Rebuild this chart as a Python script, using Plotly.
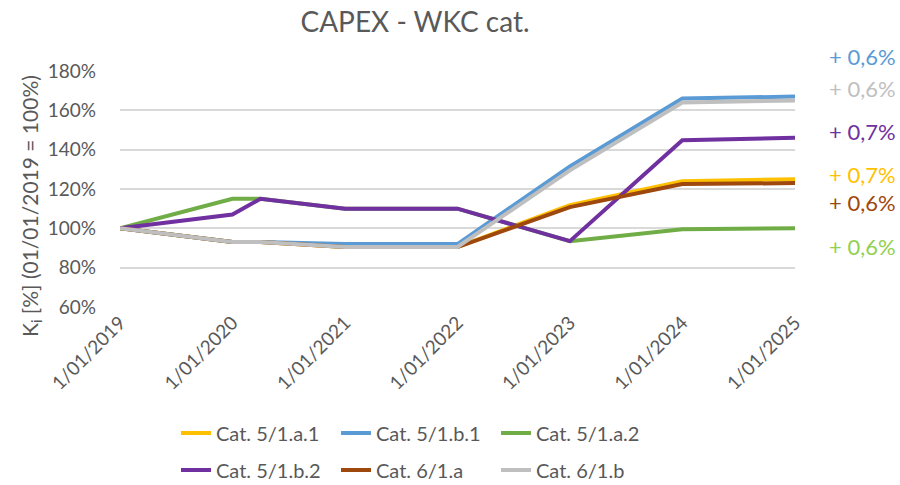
import plotly.graph_objects as go

dates = ["2019-01-01", "2020-01-01", "2020-04-01", "2021-01-01", "2022-01-01",
         "2023-01-01", "2024-01-01", "2025-01-01"]
tick_dates = ["2019-01-01", "2020-01-01", "2021-01-01", "2022-01-01",
              "2023-01-01", "2024-01-01", "2025-01-01"]
tick_labels = ["1/01/2019", "1/01/2020", "1/01/2021", "1/01/2022",
               "1/01/2023", "1/01/2024", "1/01/2025"]

names = ["Cat. 5/1.a.1", "Cat. 5/1.b.1", "Cat. 5/1.a.2",
         "Cat. 5/1.b.2", "Cat. 6/1.a", "Cat. 6/1.b"]
cat_5_1_a_1 = [100, 93, 93, 90.5, 90.5, 111.8, 124, 125]
cat_5_1_b_1 = [100, 93, 93, 92, 92, 131.5, 166, 167]
cat_5_1_a_2 = [100, 115, 115, 110, 110, 93.5, 99.5, 100]
cat_5_1_b_2 = [100, 107, 115, 110, 110, 93.5, 144.8, 146]
cat_6_1_a = [100, 93, 93, 90.5, 90.5, 110.8, 122.5, 123]
cat_6_1_b = [100, 93, 93, 90.5, 90.5, 129.5, 164, 165]
series = [cat_5_1_a_1, cat_5_1_b_1, cat_5_1_a_2, cat_5_1_b_2, cat_6_1_a, cat_6_1_b]

growth_labels = ["+ 0,6%", "+ 0,6%", "+ 0,7%", "+ 0,7%", "+ 0,6%", "+ 0,6%"]

line_colors = ["#FFC000", "#5B9BD5", "#70AD47", "#7030A0", "#9E480E", "#BFBFBF"]
label_colors = ["#5B9BD5", "#BFBFBF", "#7030A0", "#FFC000", "#9E480E", "#92D050"]
label_ypix = [57, 88, 131, 174, 202, 246]

FONT = "Lato, 'Open Sans', sans-serif"
GREY = "#595959"

W, H = 900, 485
L, R, T, B = 120, 105, 71, 178
PW, PH = W - L - R, H - T - B


def px_x(x):
    return (x - L) / PW


def px_y(y):
    return (H - B - y) / PH


fig = go.Figure()
for i, (nm, vals) in enumerate(zip(names, series)):
    fig.add_trace(go.Scatter(
        x=dates, y=vals, name=nm, mode="lines",
        line=dict(color=line_colors[i], width=4),
        legend="legend" if i < 3 else "legend2",
        hoverinfo="skip",
    ))

for txt, col, yp in zip(growth_labels, label_colors, label_ypix):
    fig.add_annotation(x=px_x(898), xref="paper", y=px_y(yp), yref="paper",
                       text=txt, showarrow=False, xanchor="right", yanchor="middle",
                       font=dict(family=FONT, size=22, color=col))

# y-axis title placed like the reference
fig.add_annotation(x=px_x(31), xref="paper", y=px_y(206), yref="paper",
                   text="K<sub>i</sub> [%] (01/01/2019 = 100%)", textangle=-90,
                   showarrow=False, xanchor="center", yanchor="middle",
                   font=dict(family=FONT, size=21, color=GREY))

legend_common = dict(orientation="h", xref="paper", yref="container",
                     xanchor="left", yanchor="middle",
                     font=dict(family=FONT, size=20, color=GREY),
                     entrywidth=115, entrywidthmode="pixels",
                     bgcolor="rgba(0,0,0,0)", itemwidth=30,
                     tracegroupgap=0)

fig.update_layout(
    width=W, height=H,
    margin=dict(l=L, r=R, t=T, b=B),
    paper_bgcolor="white", plot_bgcolor="white",
    title=dict(text="CAPEX - WKC cat.", x=415 / W, xref="container",
               y=1 - 22 / H, yref="container", xanchor="center", yanchor="middle",
               font=dict(family=FONT, size=28, color=GREY)),
    xaxis=dict(type="date", range=["2019-01-01", "2025-01-01"],
               tickvals=tick_dates, ticktext=tick_labels, tickangle=-45,
               showgrid=False, zeroline=False, showline=False,
               tickfont=dict(family=FONT, size=19, color=GREY)),
    yaxis=dict(range=[60, 180], dtick=20, ticksuffix="%",
               showgrid=True, gridcolor="#D9D9D9", gridwidth=1.5,
               zeroline=False, showline=False, ticklabelstandoff=23,
               tickfont=dict(family=FONT, size=19, color=GREY)),
    legend=dict(x=px_x(176), y=1 - 433 / H, **legend_common),
    legend2=dict(x=px_x(176), y=1 - 470 / H, **legend_common),
    showlegend=True,
)

fig.write_html("out.html", config={"displayModeBar": False},
               post_script="document.body.style.margin='0';document.body.style.overflow='hidden';")
